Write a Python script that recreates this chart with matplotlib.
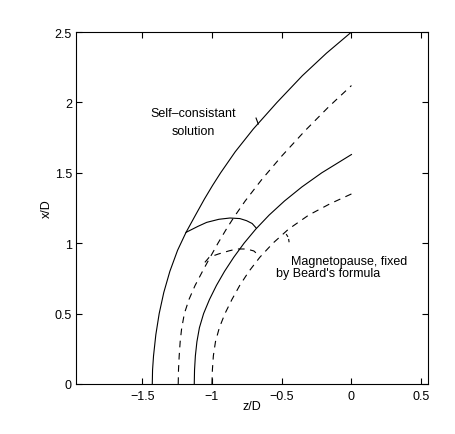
import matplotlib
matplotlib.use("Agg")
import matplotlib.pyplot as plt

plt.rcParams['font.family'] = ['Liberation Sans', 'DejaVu Sans']

# outer solid curve (self-consistent solution)
outer_z = [-1.428, -1.426, -1.419, -1.4025, -1.3785, -1.3455, -1.302, -1.2465, -1.186,
           -1.118, -1.054, -0.996, -0.938, -0.833, -0.704, -0.534, -0.352, -0.179, 0.0]
outer_x = [0.0, 0.1, 0.2, 0.35, 0.5, 0.65, 0.8, 0.95, 1.077,
           1.2, 1.314, 1.41, 1.5, 1.65, 1.811, 2.0, 2.19, 2.35, 2.5]

# left dashed curve
dash1_z = [-1.242, -1.240, -1.235, -1.228, -1.218, -1.198, -1.165, -1.122, -1.068, -1.020,
           -0.957, -0.897, -0.843, -0.762, -0.645, -0.499, -0.332, -0.162, 0.0]
dash1_x = [0.0, 0.1, 0.2, 0.3, 0.39, 0.5, 0.6, 0.698, 0.8, 0.888,
           1.0, 1.1, 1.184, 1.3, 1.45, 1.62, 1.8, 1.97, 2.12]

# inner solid curve
inner_z = [-1.127, -1.125, -1.119, -1.108, -1.09, -1.06, -1.018, -0.968, -0.91, -0.844,
           -0.77, -0.686, -0.59, -0.48, -0.355, -0.213, 0.0]
inner_x = [0.0, 0.1, 0.2, 0.3, 0.4, 0.5, 0.6, 0.7, 0.8, 0.9,
           1.0, 1.1, 1.2, 1.3, 1.4, 1.5, 1.63]

# right dashed curve
dash2_z = [-1.0, -0.997, -0.99, -0.975, -0.947, -0.907, -0.857, -0.801, -0.735, -0.657,
           -0.563, -0.451, -0.306, -0.154, 0.0]
dash2_x = [0.0, 0.1, 0.2, 0.3, 0.4, 0.5, 0.6, 0.7, 0.8, 0.9,
           1.0, 1.1, 1.2, 1.28, 1.35]

# connecting arcs
arc_z = [-1.186, -1.10, -1.038, -0.95, -0.871, -0.80, -0.752, -0.712, -0.683]
arc_x = [1.077, 1.12, 1.148, 1.17, 1.179, 1.175, 1.16, 1.14, 1.108]
darc_z = [-1.051, -1.02, -0.955, -0.88, -0.823, -0.752, -0.70, -0.672]
darc_x = [0.864, 0.90, 0.923, 0.945, 0.959, 0.959, 0.945, 0.92]

# small pointer marks
ptr1_z = [-0.684, -0.668]
ptr1_x = [1.889, 1.847]
ptr2_z = [-0.468, -0.452, -0.445]
ptr2_x = [1.065, 1.04, 0.994]

xticks = [-1.5, -1, -0.5, 0, 0.5]
yticks = [0, 0.5, 1, 1.5, 2, 2.5]

fig = plt.figure(figsize=(4.55, 4.35), dpi=100)
ax = fig.add_axes([0.167, 0.115, 0.774, 0.809])

lw = 0.8
dash = (0, (6, 5))
ax.plot(outer_z, outer_x, color='black', lw=lw)
ax.plot(dash1_z, dash1_x, color='black', lw=lw, linestyle=dash)
ax.plot(inner_z, inner_x, color='black', lw=lw)
ax.plot(dash2_z, dash2_x, color='black', lw=lw, linestyle=dash)
ax.plot(arc_z, arc_x, color='black', lw=lw)
ax.plot(darc_z, darc_x, color='black', lw=lw, linestyle=dash)
ax.plot(ptr1_z, ptr1_x, color='black', lw=lw)
ax.plot(ptr2_z, ptr2_x, color='black', lw=lw, linestyle=(0, (3, 2)))

ax.text(-1.132, 1.925, 'Self\u2013consistant', fontsize=9, ha='center', va='center')
ax.text(-1.132, 1.797, 'solution', fontsize=9, ha='center', va='center')
ax.text(-0.435, 0.872, 'Magnetopause, fixed', fontsize=9, ha='left', va='center')
ax.text(-0.543, 0.787, "by Beard's formula", fontsize=9, ha='left', va='center')

ax.set_xlim(-1.975, 0.55)
ax.set_ylim(0, 2.5)
ax.set_xticks(xticks)
ax.set_yticks(yticks)
ax.set_xticklabels(['\u22121.5', '\u22121', '\u22120.5', '0', '0.5'])
ax.set_yticklabels(['0', '0.5', '1', '1.5', '2', '2.5'])
ax.tick_params(direction='in', top=True, right=True, length=4, width=0.8,
               labelsize=9)
ax.tick_params(axis='x', pad=4)
ax.tick_params(axis='y', pad=3)
for s in ax.spines.values():
    s.set_linewidth(0.8)

ax.set_xlabel('z/D', fontsize=9)
ax.set_ylabel('x/D', fontsize=9)
ax.xaxis.set_label_coords(0.5, -0.045)
ax.yaxis.set_label_coords(-0.065, 0.5)

fig.savefig('out.png', dpi=100)
